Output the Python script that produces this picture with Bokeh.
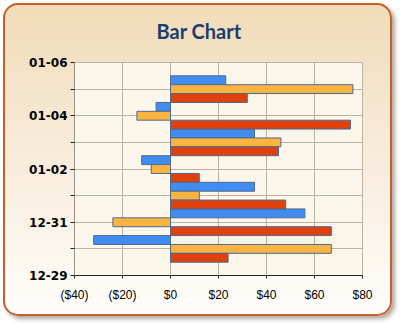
from bokeh.plotting import figure
from bokeh.models import ColumnDataSource, FixedTicker, InlineStyleSheet, Range1d
from bokeh.transform import dodge
from bokeh.embed import file_html
from bokeh.resources import INLINE

# ---- data ----
days = [1, 2, 3, 4, 5, 6, 7]  # 12-30 .. 01-05
day_names = ["12-30", "12-31", "01-01", "01-02", "01-03", "01-04", "01-05"]
series1 = [-32, 56, 35, -12, 35, -6, 23]    # blue
series2 = [67, -24, 12, -8, 46, -14, 76]    # orange
series3 = [24, 67, 48, 12, 45, 75, 32]      # red
y_tick_values = [0, 1, 2, 3, 4, 5, 6, 7, 8]
y_tick_labels = ["12-29", "", "12-31", "", "01-02", "", "01-04", "", "01-06"]
x_tick_values = [-40, -20, 0, 20, 40, 60, 80]
x_tick_labels = ["($40)", "($20)", "$0", "$20", "$40", "$60", "$80"]
colors = ["#418CF0", "#FCB441", "#E0400A"]
title_text = "Bar Chart"

src = ColumnDataSource(dict(day=days, name=day_names, s1=series1, s2=series2, s3=series3))

p = figure(width=392, height=316, output_backend="svg", toolbar_location=None,
           x_range=Range1d(-40, 80), y_range=Range1d(0, 8),
           frame_width=288, frame_height=213,
           min_border_left=74, min_border_right=30, min_border_top=62, min_border_bottom=41,
           title=title_text)
p.border_fill_alpha = 0
p.stylesheets = [InlineStyleSheet(css=""":host { position: relative; }
:host::before {
  content: "";
  position: absolute;
  left: 3px; top: 3px; width: 389px; height: 313px;
  border-radius: 15px;
  background: linear-gradient(180deg, #f1dbb8 0%, #f7ead8 45%, #fffdfb 100%);
  box-shadow: inset 0 0 0 2px #c4602c, 3px 3px 4px rgba(80,60,40,0.45);
  z-index: -1;
  pointer-events: none;
}""")]

p.title.text_font = "Lato"
p.title.text_font_size = "20px"
p.title.text_font_style = "bold"
p.title.text_color = "#1c3d6e"
p.title.align = "left"
p.title.offset = 82
p.title.vertical_align = "top"
p.title.standoff = 36

p.background_fill_color = "#fdf6ea"
p.outline_line_color = "#bdb3a2"
p.outline_line_width = 1

h = 1.0 / 3
for i, (col, c) in enumerate(zip(["s1", "s2", "s3"], colors)):
    p.hbar(y=dodge("day", h * (1 - i), range=p.y_range), left=0, right=col, height=h,
           source=src, fill_color=c, line_color="#4d6a90", line_width=1)

p.xaxis.ticker = FixedTicker(ticks=x_tick_values)
p.xaxis.major_label_overrides = dict(zip(x_tick_values, x_tick_labels))
p.yaxis.ticker = FixedTicker(ticks=y_tick_values)
p.yaxis.major_label_overrides = dict(zip(y_tick_values, y_tick_labels))

for ax in (p.xaxis, p.yaxis):
    ax.minor_tick_line_color = None
    ax.major_tick_in = 0

p.xaxis.axis_line_color = "#222222"
p.xaxis.major_tick_line_color = "#222222"
p.xaxis.major_tick_out = 3
p.xaxis.major_label_text_font = "Liberation Sans"
p.xaxis.major_label_text_font_size = "12px"
p.xaxis.major_label_text_color = "#000000"
p.xaxis.major_label_standoff = 9

p.yaxis.axis_line_color = "#9a9288"
p.yaxis.major_tick_line_color = "#222222"
p.yaxis.major_tick_out = 4
p.yaxis.major_label_text_font = "DejaVu Sans"
p.yaxis.major_label_text_font_style = "bold"
p.yaxis.major_label_text_font_size = "12px"
p.yaxis.major_label_text_color = "#000000"
p.yaxis.major_label_standoff = 3

p.xgrid.grid_line_color = "#bcb2a0"
p.ygrid.grid_line_color = "#bcb2a0"

open("out.html", "w").write(file_html(p, INLINE))
